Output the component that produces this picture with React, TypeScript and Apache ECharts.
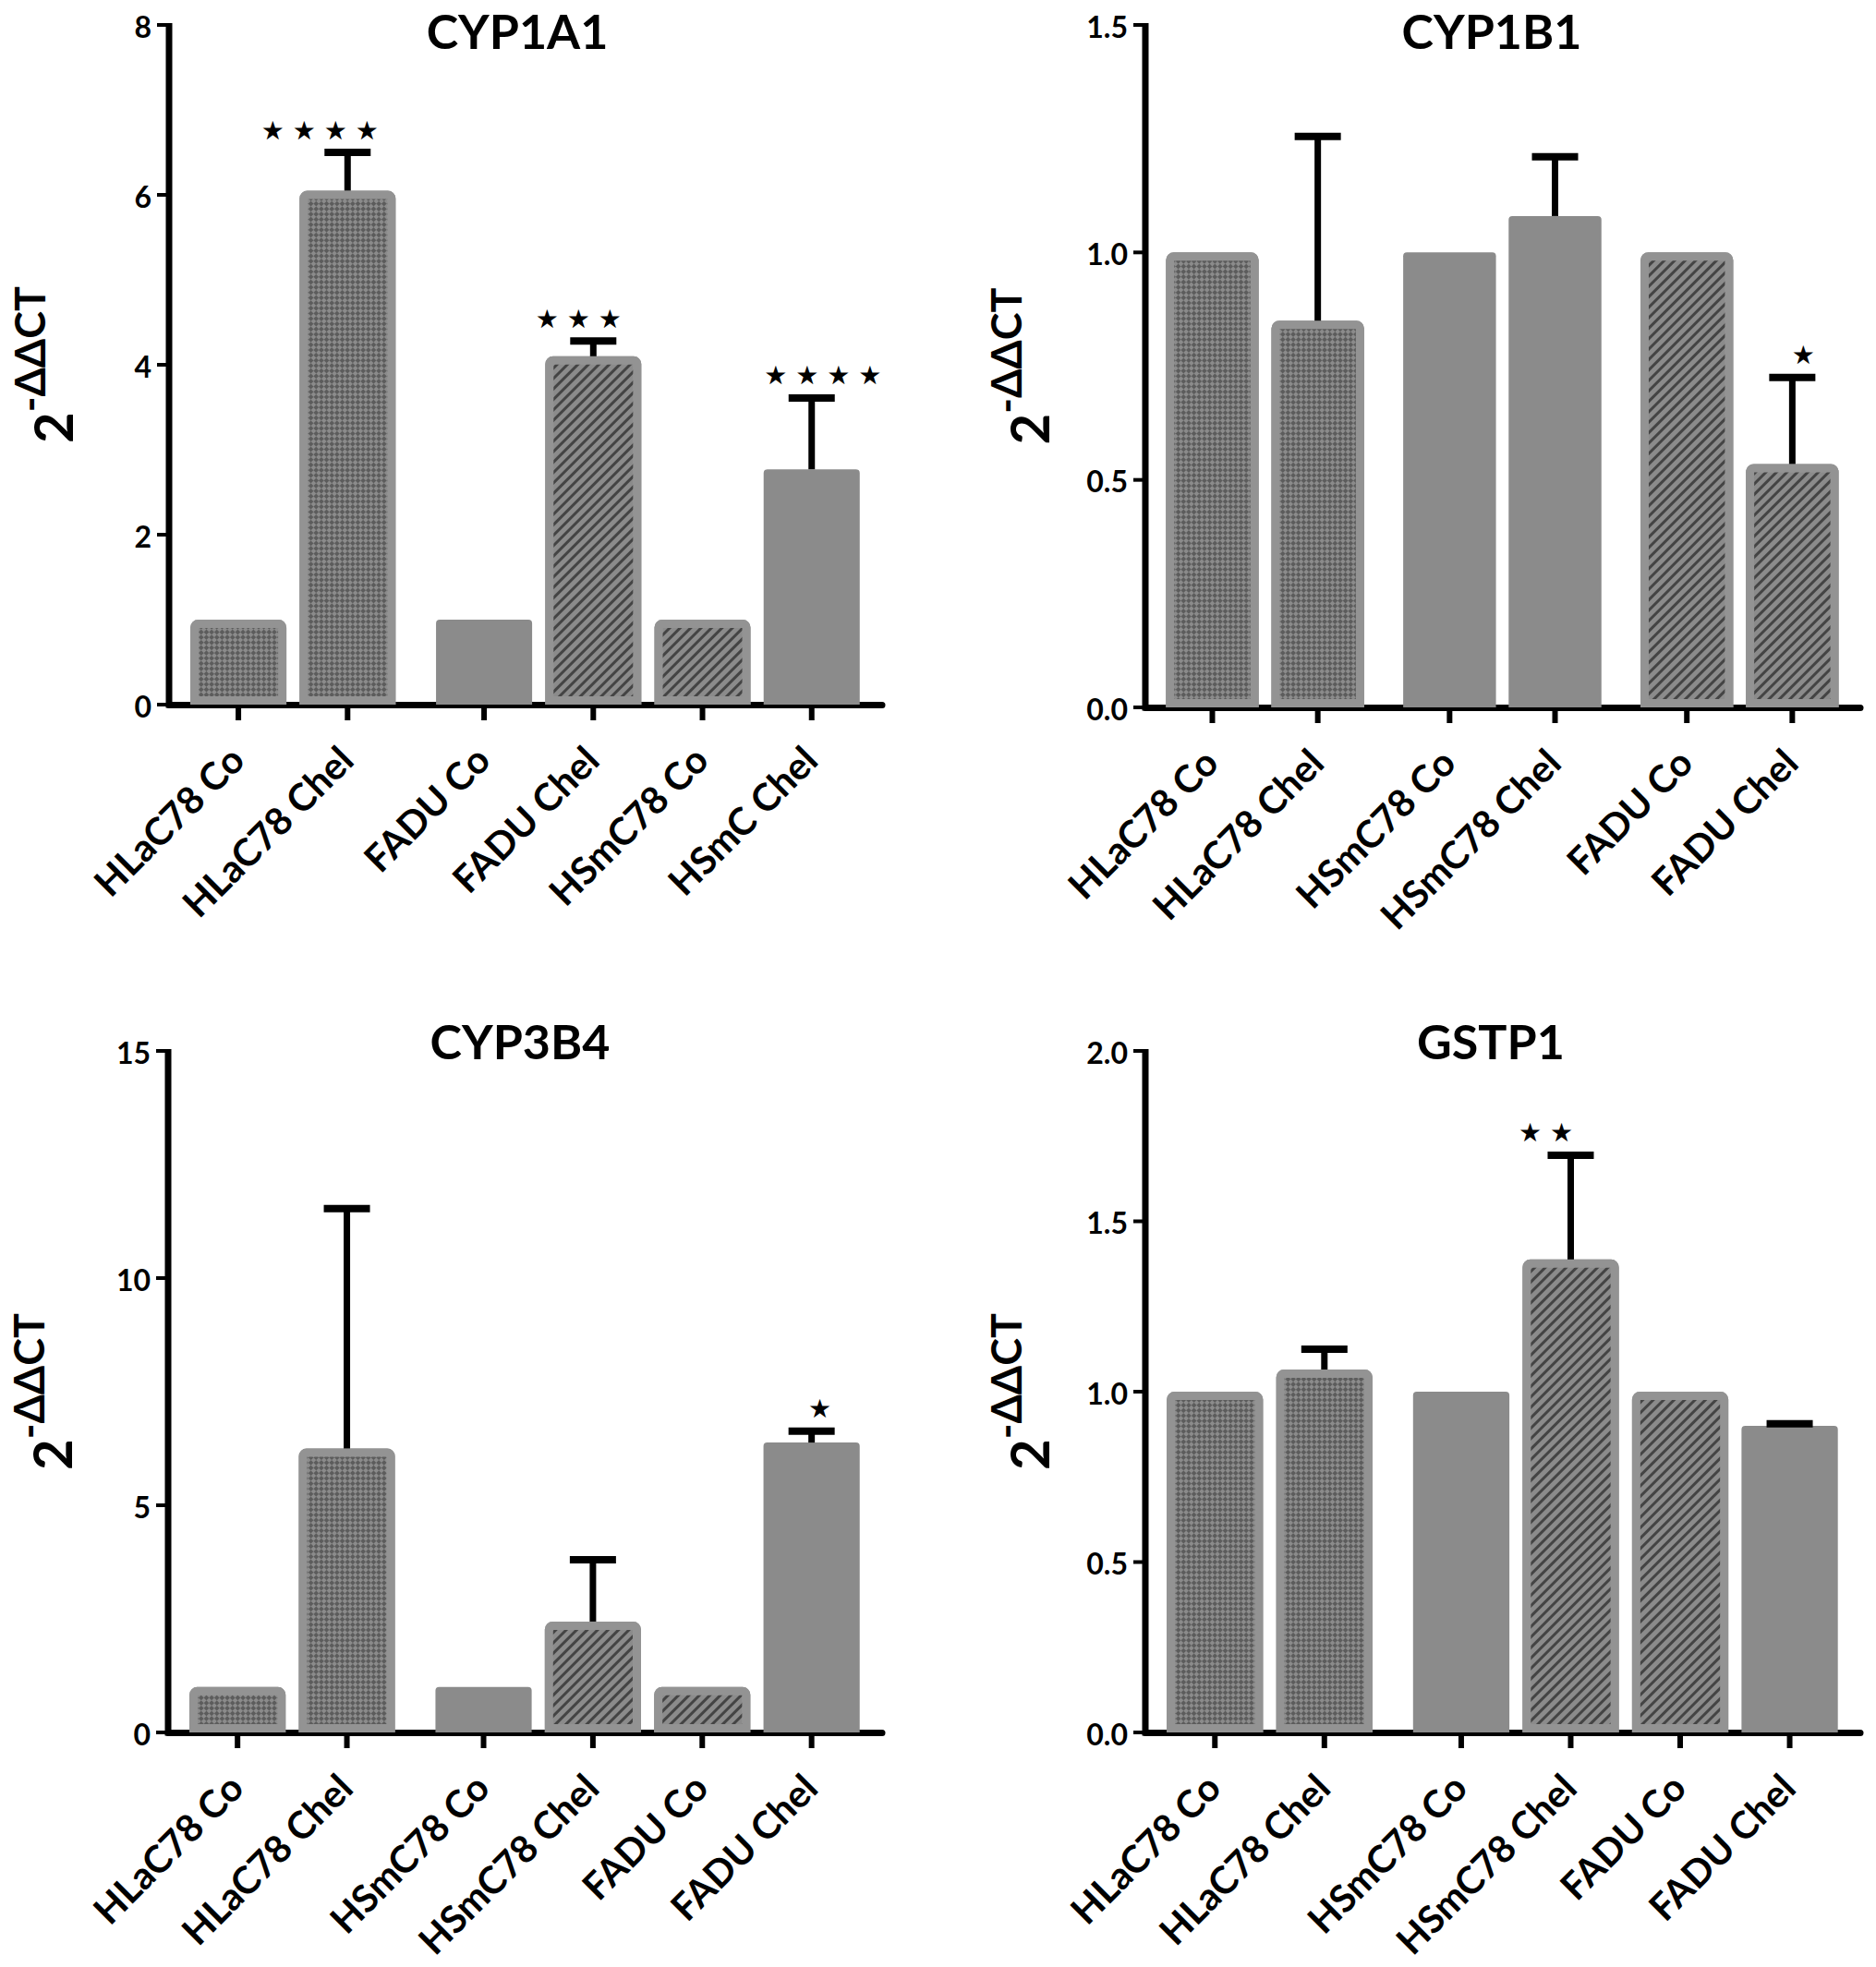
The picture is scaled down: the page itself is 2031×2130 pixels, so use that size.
import React, { useEffect, useRef } from "react";
import * as echarts from "echarts";

// ---- CYP1A1 ----
const cyp1a1Labels = ["HLaC78 Co", "HLaC78 Chel", "FADU Co", "FADU Chel", "HSmC78 Co", "HSmC Chel"];
const cyp1a1Means = [1.0, 6.05, 1.0, 4.1, 1.0, 2.77];
const cyp1a1Errors = [0, 0.45, 0, 0.18, 0, 0.84];
const cyp1a1Stars = ["", "★★★★", "", "★★★", "", "★★★★"];
const cyp1a1Groups = [0, 0, 1, 1, 1, 1];
const cyp1a1Ticks = [0, 2, 4, 6, 8];

// ---- CYP1B1 ----
const cyp1b1Labels = ["HLaC78 Co", "HLaC78 Chel", "HSmC78 Co", "HSmC78 Chel", "FADU Co", "FADU Chel"];
const cyp1b1Means = [1.0, 0.85, 1.0, 1.08, 1.0, 0.535];
const cyp1b1Errors = [0, 0.405, 0, 0.13, 0, 0.19];
const cyp1b1Stars = ["", "", "", "", "", "★"];
const cyp1b1Groups = [0, 0, 1, 1, 2, 2];
const cyp1b1Ticks = [0, 0.5, 1.0, 1.5];

// ---- CYP3B4 ----
const cyp3b4Labels = ["HLaC78 Co", "HLaC78 Chel", "HSmC78 Co", "HSmC78 Chel", "FADU Co", "FADU Chel"];
const cyp3b4Means = [1.0, 6.25, 1.0, 2.44, 1.0, 6.38];
const cyp3b4Errors = [0, 5.28, 0, 1.36, 0, 0.25];
const cyp3b4Stars = ["", "", "", "", "", "★"];
const cyp3b4Groups = [0, 0, 1, 1, 1, 1];
const cyp3b4Ticks = [0, 5, 10, 15];

// ---- GSTP1 ----
const gstp1Labels = ["HLaC78 Co", "HLaC78 Chel", "HSmC78 Co", "HSmC78 Chel", "FADU Co", "FADU Chel"];
const gstp1Means = [1.0, 1.065, 1.0, 1.388, 1.0, 0.9];
const gstp1Errors = [0, 0.06, 0, 0.306, 0, 0.006];
const gstp1Stars = ["", "", "", "★★", "", ""];
const gstp1Groups = [0, 0, 1, 1, 1, 1];
const gstp1Ticks = [0, 0.5, 1.0, 1.5, 2.0];

// bar fill patterns (style, not data)
type Fill = "check" | "hatch" | "solid";
const cyp1a1Fills: Fill[] = ["check", "check", "solid", "hatch", "hatch", "solid"];
const cyp1b1Fills: Fill[] = ["check", "check", "solid", "solid", "hatch", "hatch"];
const cyp3b4Fills: Fill[] = ["check", "check", "solid", "hatch", "hatch", "solid"];
const gstp1Fills: Fill[] = ["check", "check", "solid", "hatch", "hatch", "solid"];

const FONT = "Lato, 'Open Sans', 'DejaVu Sans', sans-serif";
const GROUP_GAP = 0.25; // extra space between groups, in bar units
const PAD_L = 0.635;
const PAD_R = 0.645;
const BAR_FRAC = 0.88;
const BAR_GREY = "#8b8b8b";
const AXIS_W = 7;

interface Panel {
  title: string;
  labels: string[];
  means: number[];
  errors: number[];
  stars: string[];
  groups: number[];
  ticks: number[];
  decimals: number;
  fills: Fill[];
  starDx: number[];
  left: number;
  top: number;
  width: number;
  height: number;
  titleX: number;
  titleY: number;
}

const panels: Panel[] = [
  {
    title: "CYP1A1", labels: cyp1a1Labels, means: cyp1a1Means, errors: cyp1a1Errors,
    stars: cyp1a1Stars, groups: cyp1a1Groups, ticks: cyp1a1Ticks, decimals: 0, fills: cyp1a1Fills,
    starDx: [0, -30, 0, -16, 0, 12],
    left: 183, top: 27, width: 772, height: 736, titleX: 560, titleY: 33,
  },
  {
    title: "CYP1B1", labels: cyp1b1Labels, means: cyp1b1Means, errors: cyp1b1Errors,
    stars: cyp1b1Stars, groups: cyp1b1Groups, ticks: cyp1b1Ticks, decimals: 1, fills: cyp1b1Fills,
    starDx: [0, 0, 0, 0, 0, 12],
    left: 1240, top: 27, width: 774, height: 739, titleX: 1615, titleY: 33,
  },
  {
    title: "CYP3B4", labels: cyp3b4Labels, means: cyp3b4Means, errors: cyp3b4Errors,
    stars: cyp3b4Stars, groups: cyp3b4Groups, ticks: cyp3b4Ticks, decimals: 0, fills: cyp3b4Fills,
    starDx: [0, 0, 0, 0, 0, 9],
    left: 182, top: 1138, width: 773, height: 738, titleX: 563, titleY: 1127,
  },
  {
    title: "GSTP1", labels: gstp1Labels, means: gstp1Means, errors: gstp1Errors,
    stars: gstp1Stars, groups: gstp1Groups, ticks: gstp1Ticks, decimals: 1, fills: gstp1Fills,
    starDx: [0, 0, 0, -27, 0, 0],
    left: 1240, top: 1138, width: 774, height: 738, titleX: 1614, titleY: 1127,
  },
];

const decalFor = (fill: Fill) => {
  if (fill === "check") {
    return {
      symbol: "rect",
      symbolSize: 1,
      dashArrayX: [[4, 4], [0, 4, 4, 0]],
      dashArrayY: [4, 0],
      rotation: Math.PI / 4,
      color: "rgba(45,45,45,0.5)",
    };
  }
  if (fill === "hatch") {
    return {
      symbol: "rect",
      symbolSize: 1,
      dashArrayX: [1, 0],
      dashArrayY: [2.4, 4.2],
      rotation: -Math.PI / 4,
      color: "rgba(40,40,40,0.72)",
    };
  }
  return undefined;
};

function buildOption() {
  const grid: any[] = [];
  const xAxis: any[] = [];
  const yAxis: any[] = [];
  const series: any[] = [];
  const graphic: any[] = [];

  panels.forEach((p, k) => {
    const pos = p.labels.map((_, i) => i + GROUP_GAP * p.groups[i]);
    const xMin = -PAD_L;
    const xMax = pos[pos.length - 1] + PAD_R;
    const unitPx = p.width / (xMax - xMin);
    const yMin = p.ticks[0];
    const yMax = p.ticks[p.ticks.length - 1];

    grid.push({
      left: p.left,
      top: p.top,
      width: p.width,
      height: p.height,
      containLabel: false,
      outerBoundsMode: "none",
    });

    xAxis.push({
      type: "value",
      gridIndex: k,
      min: xMin,
      max: xMax,
      axisLine: { show: true, onZero: false, lineStyle: { color: "#000", width: AXIS_W } },
      axisTick: { show: false },
      axisLabel: { show: false },
      splitLine: { show: false },
    });

    // value axis: scale and title; the line, ticks and labels are drawn below
    yAxis.push({
      type: "value",
      gridIndex: k,
      min: yMin,
      max: yMax,
      interval: p.ticks[1] - p.ticks[0],
      axisLine: { show: false, onZero: false },
      axisTick: { show: false },
      axisLabel: { show: false },
      splitLine: { show: false },
      name: "{b|2}{s|-ΔΔCT}",
      nameLocation: "middle",
      nameRotate: 90,
      nameGap: 98,
      nameTextStyle: {
        rich: {
          b: { fontFamily: FONT, fontWeight: "bold", fontSize: 58, color: "#000", padding: [18, 0, 0, 0] },
          s: { fontFamily: FONT, fontWeight: "bold", fontSize: 45, color: "#000", verticalAlign: "top" },
        },
      },
    });

    // y axis line, ticks and tick labels
    series.push({
      type: "custom",
      xAxisIndex: k,
      yAxisIndex: k,
      clip: false,
      z: 6,
      data: p.ticks.map((t, i) => [xMin, t, i]),
      renderItem: (_params: any, api: any) => {
        const t = api.value(1);
        const i = api.value(2);
        const pt = api.coord([xMin, t]);
        const children: any[] = [
          {
            type: "line",
            shape: { x1: pt[0] - 13, y1: pt[1], x2: pt[0], y2: pt[1] },
            style: { stroke: "#000", lineWidth: 4 },
          },
          {
            type: "text",
            x: pt[0] - 19,
            y: pt[1] + 1,
            style: {
              text: t.toFixed(p.decimals),
              align: "right",
              verticalAlign: "middle",
              fontFamily: FONT,
              fontWeight: "bold",
              fontSize: 32,
              fill: "#000",
            },
          },
        ];
        if (i === 0) {
          const topPt = api.coord([xMin, yMax]);
          children.push({
            type: "line",
            shape: { x1: pt[0], y1: topPt[1] - 2, x2: pt[0], y2: pt[1] + AXIS_W / 2 },
            style: { stroke: "#000", lineWidth: AXIS_W },
          });
        }
        return { type: "group", children };
      },
    });

    // bars
    series.push({
      type: "bar",
      name: p.title,
      xAxisIndex: k,
      yAxisIndex: k,
      barWidth: unitPx * BAR_FRAC,
      data: p.means.map((m, i) => {
        const decal = decalFor(p.fills[i]);
        return {
          value: [pos[i], m],
          itemStyle: {
            color: BAR_GREY,
            borderColor: decal ? "#939393" : BAR_GREY,
            borderWidth: decal ? 9 : 0,
            borderRadius: [4, 4, 0, 0],
            decal: decal,
          },
        };
      }),
      silent: true,
    });

    // error bars and significance stars
    series.push({
      type: "custom",
      xAxisIndex: k,
      yAxisIndex: k,
      clip: false,
      z: 5,
      data: p.means.map((m, i) => [pos[i], m, p.errors[i], i]),
      renderItem: (_params: any, api: any) => {
        const x = api.value(0);
        const m = api.value(1);
        const e = api.value(2);
        const i = api.value(3);
        const base = api.coord([x, m]);
        const top = api.coord([x, m + e]);
        const children: any[] = [];
        if (e > 0) {
          children.push({
            type: "line",
            shape: { x1: base[0], y1: base[1], x2: top[0], y2: top[1] },
            style: { stroke: "#000", lineWidth: 7 },
          });
          children.push({
            type: "line",
            shape: { x1: top[0] - 25, y1: top[1], x2: top[0] + 25, y2: top[1] },
            style: { stroke: "#000", lineWidth: 8 },
          });
        }
        const star = p.stars[i];
        if (star) {
          children.push({
            type: "text",
            x: top[0] + p.starDx[i],
            y: top[1] - 24,
            style: {
              text: star.split("").join(" "),
              align: "center",
              verticalAlign: "middle",
              fontFamily: "'DejaVu Sans', sans-serif",
              fontSize: 28,
              fill: "#000",
            },
          });
        }
        return { type: "group", children };
      },
    });

    // category ticks and rotated labels
    series.push({
      type: "custom",
      xAxisIndex: k,
      yAxisIndex: k,
      clip: false,
      z: 5,
      data: p.labels.map((_, i) => [pos[i], i]),
      renderItem: (_params: any, api: any) => {
        const x = api.value(0);
        const i = api.value(1);
        const pt = api.coord([x, yMin]);
        return {
          type: "group",
          children: [
            {
              type: "line",
              shape: { x1: pt[0], y1: pt[1], x2: pt[0], y2: pt[1] + 17 },
              style: { stroke: "#000", lineWidth: 6 },
            },
            {
              type: "text",
              x: pt[0] - 2,
              y: pt[1] + 52,
              rotation: Math.PI / 4,
              style: {
                text: p.labels[i],
                align: "right",
                verticalAlign: "middle",
                fontFamily: FONT,
                fontWeight: "bold",
                fontSize: 41,
                fill: "#000",
              },
            },
          ],
        };
      },
    });

    graphic.push({
      type: "text",
      x: p.titleX,
      y: p.titleY,
      style: {
        text: p.title,
        align: "center",
        verticalAlign: "middle",
        fontFamily: FONT,
        fontWeight: "bold",
        fontSize: 52,
        fill: "#000",
      },
    });
  });

  return {
    animation: false,
    backgroundColor: "#fff",
    grid,
    xAxis,
    yAxis,
    series,
    graphic,
  };
}

const App: React.FC = () => {
  const chartRef = useRef<HTMLDivElement>(null);

  useEffect(() => {
    document.body.style.margin = "0";
    if (!chartRef.current) return;
    const chart = echarts.init(chartRef.current, null, { renderer: "svg" });
    chart.setOption(buildOption() as any);
    return () => {
      chart.dispose();
    };
  }, []);

  return <div ref={chartRef} style={{ width: 2031, height: 2130 }} />;
};

export default App;
